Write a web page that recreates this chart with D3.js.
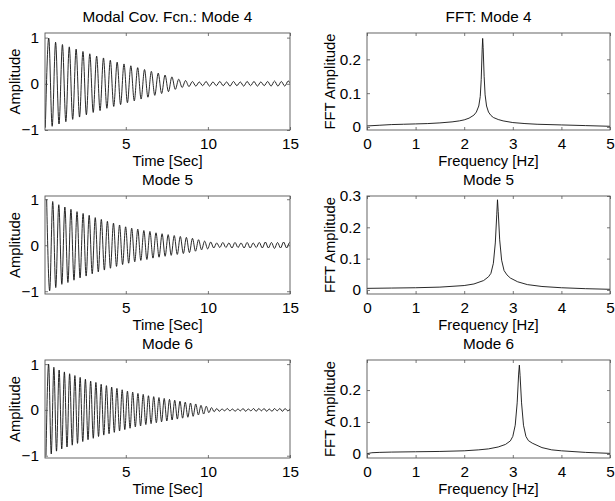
<!DOCTYPE html>
<html><head><meta charset="utf-8">
<script src="https://cdn.jsdelivr.net/npm/d3@7"></script>
<style>
html,body{margin:0;padding:0;background:#fff;}
svg{display:block;font-family:"Liberation Sans",Arial,Helvetica,sans-serif;}
</style></head>
<body>
<script>
// ---------------- DATA ----------------
const leftTitles = ["Modal Cov. Fcn.: Mode 4", "Mode 5", "Mode 6"];
const rightTitles = ["FFT: Mode 4", "Mode 5", "Mode 6"];

// Covariance function: signed extreme values (successive peaks/troughs)
const mode4Start = 0.10, mode4HalfPeriod = 0.2083;   // ~2.40 Hz
const mode4Extrema = [
 -0.95, 0.99, -0.92, 0.90, -0.87, 0.85, -0.82, 0.80, -0.77, 0.75,
 -0.72, 0.70, -0.67, 0.65, -0.62, 0.60, -0.58, 0.56, -0.53, 0.51,
 -0.49, 0.47, -0.45, 0.43, -0.41, 0.39, -0.37, 0.35, -0.33, 0.31,
 -0.29, 0.27, -0.25, 0.23, -0.21, 0.19, -0.17, 0.15, -0.12, 0.10,
 -0.08, 0.07, -0.06, 0.05, -0.05, 0.04, -0.04, 0.05, -0.05, 0.04,
 -0.04, 0.05, -0.04, 0.04, -0.05, 0.05, -0.04, 0.04, -0.05, 0.05,
 -0.04, 0.05, -0.05, 0.04, -0.04, 0.05, -0.05, 0.06, -0.05, 0.05,
 -0.05, 0.06, -0.05
];
const mode5Start = 0.18, mode5HalfPeriod = 0.185;    // ~2.70 Hz
const mode5Extrema = [
  1.00, -0.99, 0.95, -0.92, 0.88, -0.85, 0.83, -0.81, 0.78, -0.76,
  0.73, -0.71, 0.69, -0.67, 0.65, -0.62, 0.60, -0.58, 0.56, -0.54,
  0.52, -0.50, 0.48, -0.46, 0.44, -0.42, 0.40, -0.39, 0.37, -0.36,
  0.35, -0.33, 0.32, -0.31, 0.30, -0.28, 0.27, -0.26, 0.25, -0.24,
  0.23, -0.22, 0.21, -0.20, 0.19, -0.18, 0.17, -0.16, 0.15, -0.13,
  0.12, -0.10, 0.09, -0.08, 0.07, -0.06, 0.05, -0.05, 0.06, -0.05,
  0.05, -0.06, 0.06, -0.05, 0.05, -0.06, 0.06, -0.06, 0.05, -0.05,
  0.06, -0.06, 0.07, -0.06, 0.06, -0.07, 0.06, -0.06, 0.07, -0.06,
  0.06, -0.07
];
const mode6Start = 0.14, mode6HalfPeriod = 0.16;     // ~3.13 Hz
const mode6Extrema = [
 -1.00, 1.00, -0.96, 0.93, -0.90, 0.87, -0.85, 0.83, -0.81, 0.79,
 -0.77, 0.75, -0.73, 0.71, -0.69, 0.67, -0.65, 0.63, -0.62, 0.60,
 -0.58, 0.56, -0.55, 0.53, -0.52, 0.50, -0.49, 0.47, -0.46, 0.44,
 -0.43, 0.41, -0.40, 0.39, -0.37, 0.36, -0.35, 0.34, -0.32, 0.31,
 -0.30, 0.29, -0.28, 0.27, -0.26, 0.25, -0.24, 0.23, -0.22, 0.21,
 -0.20, 0.19, -0.18, 0.17, -0.16, 0.15, -0.14, 0.13, -0.11, 0.10,
 -0.09, 0.08, -0.06, 0.05, -0.04, 0.03, -0.03, 0.02, -0.02, 0.03,
 -0.02, 0.02, -0.03, 0.02, -0.02, 0.03, -0.03, 0.02, -0.02, 0.03,
 -0.03, 0.03, -0.02, 0.03, -0.03, 0.02, -0.03, 0.03, -0.02, 0.03,
 -0.03, 0.03, -0.02, 0.03
];

// FFT amplitude spectra
const fft4Freq = [0, 0.25, 0.5, 0.75, 1.0, 1.25, 1.5, 1.75, 1.9, 2.0, 2.1, 2.2, 2.25, 2.3, 2.33, 2.35, 2.37, 2.38, 2.39, 2.41, 2.43, 2.46, 2.5, 2.55, 2.6, 2.7, 2.8, 3.0, 3.25, 3.5, 4.0, 4.5, 5.0];
const fft4Amp  = [0.003, 0.005, 0.007, 0.008, 0.009, 0.010, 0.012, 0.015, 0.018, 0.021, 0.026, 0.035, 0.044, 0.062, 0.090, 0.140, 0.230, 0.262, 0.235, 0.150, 0.095, 0.062, 0.044, 0.034, 0.028, 0.022, 0.018, 0.013, 0.010, 0.008, 0.006, 0.004, 0.002];
const fft5Freq = [0, 0.5, 1.0, 1.5, 2.0, 2.2, 2.4, 2.5, 2.55, 2.6, 2.64, 2.67, 2.685, 2.7, 2.73, 2.77, 2.82, 2.88, 2.95, 3.1, 3.3, 3.6, 4.0, 4.5, 5.0];
const fft5Amp  = [0.005, 0.006, 0.007, 0.009, 0.014, 0.019, 0.030, 0.042, 0.053, 0.085, 0.150, 0.240, 0.288, 0.250, 0.160, 0.095, 0.062, 0.048, 0.038, 0.026, 0.017, 0.011, 0.007, 0.004, 0.002];
const fft6Freq = [0, 0.1, 0.25, 0.5, 1.0, 1.5, 2.0, 2.3, 2.5, 2.7, 2.85, 2.95, 3.0, 3.05, 3.09, 3.12, 3.135, 3.15, 3.18, 3.22, 3.27, 3.32, 3.4, 3.6, 3.8, 4.0, 4.5, 5.0];
const fft6Amp  = [0.001, 0.004, 0.005, 0.006, 0.007, 0.008, 0.010, 0.013, 0.016, 0.022, 0.030, 0.041, 0.055, 0.090, 0.160, 0.250, 0.278, 0.245, 0.160, 0.090, 0.055, 0.042, 0.034, 0.020, 0.013, 0.010, 0.005, 0.002];

const timeTicks = [5, 10, 15];
const ampTicks = [-1, 0, 1];
const freqTicks = [0, 1, 2, 3, 4, 5];
const fftTicks = [[0, 0.1, 0.2], [0, 0.1, 0.2, 0.3], [0, 0.1, 0.2]];
const timeDomain = [0.08, 15];
const freqDomain = [0, 5];
const ampDomains = [[-1.0, 1.1], [-1.06, 1.07], [-1.05, 1.09]];
const fftDomains = [[-0.009, 0.278], [-0.013, 0.3], [-0.0125, 0.294]];

const covStarts = [mode4Start, mode5Start, mode6Start];
const covHalf = [mode4HalfPeriod, mode5HalfPeriod, mode6HalfPeriod];
const covExtrema = [mode4Extrema, mode5Extrema, mode6Extrema];
const fftFreqs = [fft4Freq, fft5Freq, fft6Freq];
const fftAmps = [fft4Amp, fft5Amp, fft6Amp];

// ---------------- LAYOUT ----------------
const W = 615, H = 501;
const rowsY = [[33, 130], [196, 294], [360, 458]];
const leftX = [45, 290], rightX = [367, 610];
const TICKFONT = 15.3, LABELFONT = 14.8, TITLEFONT = 15.3;
const AX = "#555";

const svg = d3.select("body").append("svg").attr("width", W).attr("height", H);
const defs = svg.append("defs");

function drawAxes(g, x, y, xt, yt, xlab, ylab, title, ylabX, id) {
  const [x0, x1] = x.range(), [y1, y0] = y.range();
  defs.append("clipPath").attr("id", id).append("rect")
    .attr("x", x0).attr("y", y0).attr("width", x1 - x0).attr("height", y1 - y0);
  const style = sel => {
    sel.select(".domain").remove();
    sel.selectAll(".tick line").attr("stroke", AX).attr("stroke-width", 0.8);
    sel.selectAll("text").attr("fill", "#000").attr("font-size", TICKFONT)
      .attr("font-family", '"Liberation Sans",Arial,sans-serif');
  };
  g.append("g").attr("transform", `translate(0,${y1})`)
    .call(d3.axisBottom(x).tickValues(xt).tickSize(-3).tickPadding(8.5).tickFormat(d3.format("d"))).call(style);
  g.append("g").attr("transform", `translate(0,${y0})`)
    .call(d3.axisTop(x).tickValues(xt).tickSize(-3).tickFormat("")).call(style);
  g.append("g").attr("transform", `translate(${x0},0)`)
    .call(d3.axisLeft(y).tickValues(yt).tickSize(-3).tickPadding(6).tickFormat(d => d3.format("~g")(d))).call(style);
  g.append("g").attr("transform", `translate(${x1},0)`)
    .call(d3.axisRight(y).tickValues(yt).tickSize(-3).tickFormat("")).call(style);
  g.append("rect").attr("x", x0).attr("y", y0).attr("width", x1 - x0).attr("height", y1 - y0)
    .attr("fill", "none").attr("stroke", AX).attr("stroke-width", 0.9);
  g.append("text").attr("x", (x0 + x1) / 2).attr("y", y0 - 11).attr("text-anchor", "middle")
    .attr("font-size", TITLEFONT).text(title);
  g.append("text").attr("x", (x0 + x1) / 2).attr("y", y1 + 36).attr("text-anchor", "middle")
    .attr("font-size", LABELFONT).text(xlab);
  g.append("text").attr("transform", `translate(${ylabX},${(y0 + y1) / 2}) rotate(-90)`)
    .attr("text-anchor", "middle").attr("dy", "0.35em").attr("font-size", LABELFONT).text(ylab);
}

for (let r = 0; r < 3; r++) {
  // left: covariance function
  const xL = d3.scaleLinear().domain(timeDomain).range(leftX);
  const yL = d3.scaleLinear().domain(ampDomains[r]).range([rowsY[r][1], rowsY[r][0]]);
  const gL = svg.append("g");
  const pts = covExtrema[r].map((v, i) => ({t: covStarts[r] + i * covHalf[r], v}));
  gL.append("path").datum(pts)
    .attr("clip-path", `url(#cl${r})`)
    .attr("fill", "none").attr("stroke", "#111").attr("stroke-width", 0.9)
    .attr("d", d3.line().x(d => xL(d.t)).y(d => yL(d.v)).curve(d3.curveMonotoneX));
  drawAxes(gL, xL, yL, timeTicks, ampTicks, "Time [Sec]", "Amplitude", leftTitles[r], 15, `cl${r}`);

  // right: FFT
  const xR = d3.scaleLinear().domain(freqDomain).range(rightX);
  const yR = d3.scaleLinear().domain(fftDomains[r]).range([rowsY[r][1], rowsY[r][0]]);
  const gR = svg.append("g");
  const fp = fftFreqs[r].map((f, i) => ({f, a: fftAmps[r][i]}));
  gR.append("path").datum(fp)
    .attr("clip-path", `url(#cr${r})`)
    .attr("fill", "none").attr("stroke", "#111").attr("stroke-width", 0.9)
    .attr("d", d3.line().x(d => xR(d.f)).y(d => yR(d.a)));
  drawAxes(gR, xR, yR, freqTicks, fftTicks[r], "Frequency [Hz]", "FFT Amplitude", rightTitles[r], 330, `cr${r}`);
}
</script>
</body></html>
